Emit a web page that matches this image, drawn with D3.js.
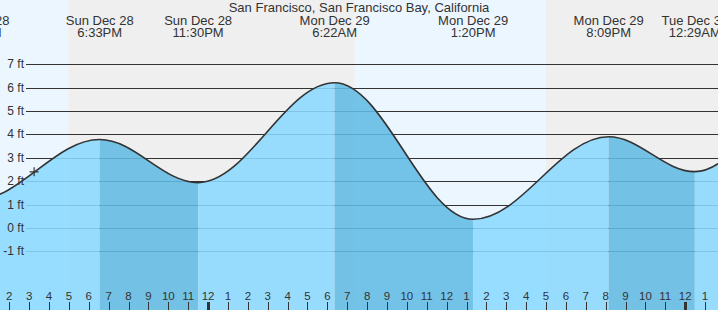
<!DOCTYPE html>
<html>
<head>
<meta charset="utf-8">
<script src="https://cdn.jsdelivr.net/npm/d3@7"></script>
<style>
  html, body { margin: 0; padding: 0; background: #fff; }
  svg { display: block; font-family: "Liberation Sans", Arial, sans-serif; }
</style>
</head>
<body>
<div id="chart"></div>
<script>
// Tide extremes (local time, kept as UTC so the sandbox timezone does not matter)
var tideTimes = ['2025-12-28T12:18', '2025-12-28T18:33', '2025-12-28T23:30', '2025-12-29T06:22',
                 '2025-12-29T13:20', '2025-12-29T20:09', '2025-12-30T00:29', '2025-12-30T06:30'];
var tideHeights = [1.2, 3.78, 1.94, 6.21, 0.37, 3.9, 2.41, 6.1];

// Sunset / sunrise boundaries
var sunTimes = ['2025-12-28T16:58', '2025-12-29T07:23', '2025-12-29T17:00'];

// "Now" marker
var nowTime = '2025-12-28T15:15';
var nowHeight = 2.4;

var yTicks = [-1, 0, 1, 2, 3, 4, 5, 6, 7];
var title = 'San Francisco, San Francisco Bay, California';
var domainStart = '2025-12-28T13:32';
var domainEnd = '2025-12-30T01:39';

function parseT(s) { return new Date(s + ':00Z'); }

var width = 718, height = 310;

var x = d3.scaleUtc()
    .domain([parseT(domainStart), parseT(domainEnd)])
    .range([0, width]);

var y = d3.scaleLinear()
    .domain([-1, 7])
    .range([251.3, 64.3]);

var tides = tideTimes.map(function(t, i) {
    return { time: parseT(t), height: tideHeights[i] };
});

/**
 * Tide curve: smooth segments with flat tangents at each high / low
 */
function TideCurve(context) { this._context = context; }
TideCurve.prototype = {
    areaStart: function() { this._line = 0; },
    areaEnd: function() { this._line = NaN; },
    lineStart: function() { this._point = 0; },
    lineEnd: function() {
        if (this._line || (this._line !== 0 && this._point === 1)) this._context.closePath();
        this._line = 1 - this._line;
    },
    point: function(px, py) {
        px = +px; py = +py;
        if (this._point === 0) {
            this._point = 1;
            if (this._line) this._context.lineTo(px, py);
            else this._context.moveTo(px, py);
        } else {
            this._point = 2;
            var c = (px - this._x) * 0.36;
            this._context.bezierCurveTo(this._x + c, this._y, px - c, py, px, py);
        }
        this._x = px; this._y = py;
    }
};
function curveTide(context) { return new TideCurve(context); }

var svg = d3.select('#chart').append('svg')
    .attr('width', width)
    .attr('height', height);

// Day / night background bands
var sunDates = sunTimes.map(parseT);
var bandEdges = [x.domain()[0]].concat(sunDates).concat([x.domain()[1]]);
var bands = [];
for (var i = 0; i < bandEdges.length - 1; i++) {
    bands.push({ start: bandEdges[i], end: bandEdges[i + 1], day: i % 2 === 0 });
}
svg.selectAll('.band')
    .data(bands)
    .enter()
    .append('rect')
    .attr('class', 'band')
    .attr('x', function(d) { return x(d.start); })
    .attr('width', function(d) { return x(d.end) - x(d.start); })
    .attr('y', 0)
    .attr('height', height)
    .attr('fill', function(d) { return d.day ? '#ecf6ff' : '#efefef'; });

// Grid lines (under the water, they show through faintly)
svg.selectAll('.grid')
    .data(yTicks)
    .enter()
    .append('line')
    .attr('class', 'grid')
    .attr('x1', 26)
    .attr('x2', width)
    .attr('y1', function(d) { return Math.round(y(d)) + 0.5; })
    .attr('y2', function(d) { return Math.round(y(d)) + 0.5; })
    .attr('stroke', '#333')
    .attr('stroke-width', 1);

// Water area, split into flood (light) and ebb (dark) stretches
var area = d3.area()
    .x(function(d) { return x(d.time); })
    .y0(height)
    .y1(function(d) { return y(d.height); })
    .curve(curveTide);

svg.append('clipPath')
    .attr('id', 'water-clip')
    .append('path')
    .attr('d', area(tides));

var stretches = [];
for (var j = 0; j < tides.length - 1; j++) {
    stretches.push({ start: tides[j].time, end: tides[j + 1].time,
                     ebb: tides[j].height > tides[j + 1].height });
}
svg.append('g')
    .attr('clip-path', 'url(#water-clip)')
    .selectAll('rect')
    .data(stretches)
    .enter()
    .append('rect')
    .attr('x', function(d) { return x(d.start); })
    .attr('width', function(d) { return x(d.end) - x(d.start); })
    .attr('y', 0)
    .attr('height', height)
    .attr('fill', function(d) { return d.ebb ? '#62bbe4' : '#8bdaff'; })
    .attr('fill-opacity', 0.88);

// Tide line
var line = d3.line()
    .x(function(d) { return x(d.time); })
    .y(function(d) { return y(d.height); })
    .curve(curveTide);

svg.append('path')
    .attr('d', line(tides))
    .attr('fill', 'none')
    .attr('stroke', '#333')
    .attr('stroke-width', 1.6);

// Y axis labels
svg.selectAll('.ylabel')
    .data(yTicks)
    .enter()
    .append('text')
    .attr('class', 'ylabel')
    .attr('x', 24)
    .attr('y', function(d) { return y(d) + 4; })
    .attr('text-anchor', 'end')
    .attr('font-size', 12)
    .attr('fill', '#333')
    .text(function(d) { return d + ' ft'; });

// Hour ticks along the bottom
var hours = d3.utcHour.range(d3.utcHour.ceil(x.domain()[0]), x.domain()[1]);
var hourFmt = d3.utcFormat('%-I');

svg.selectAll('.tick')
    .data(hours)
    .enter()
    .append('line')
    .attr('class', 'tick')
    .attr('x1', function(d) { return Math.round(x(d)) + 0.5; })
    .attr('x2', function(d) { return Math.round(x(d)) + 0.5; })
    .attr('y1', 302)
    .attr('y2', height)
    .attr('stroke', '#333')
    .attr('stroke-width', function(d) { return d.getUTCHours() === 0 ? 3 : 1; });

svg.selectAll('.hlabel')
    .data(hours)
    .enter()
    .append('text')
    .attr('class', 'hlabel')
    .attr('x', function(d) { return x(d); })
    .attr('y', 299.5)
    .attr('text-anchor', 'middle')
    .attr('font-size', 11.5)
    .attr('fill', '#333')
    .text(function(d) { return hourFmt(d); });

// Now marker
var nx = x(parseT(nowTime)), ny = y(nowHeight);
svg.append('path')
    .attr('d', 'M' + (nx - 4.5) + ',' + ny + 'H' + (nx + 4.5) + 'M' + nx + ',' + (ny - 4.5) + 'V' + (ny + 4.5))
    .attr('stroke', '#333')
    .attr('stroke-width', 1.2);

// High / low labels across the top
var dayFmt = d3.utcFormat('%a %b %-d');
var timeFmt = d3.utcFormat('%-I:%M%p');
var labels = svg.selectAll('.tlabel')
    .data(tides)
    .enter()
    .append('text')
    .attr('class', 'tlabel')
    .attr('text-anchor', 'middle')
    .attr('font-size', 13)
    .attr('fill', '#333');
labels.append('tspan')
    .attr('x', function(d) { return x(d.time); })
    .attr('y', 24.8)
    .text(function(d) { return dayFmt(d.time); });
labels.append('tspan')
    .attr('x', function(d) { return x(d.time); })
    .attr('y', 36.8)
    .text(function(d) { return timeFmt(d.time); });

// Title
svg.append('text')
    .attr('x', 359)
    .attr('y', 12.3)
    .attr('text-anchor', 'middle')
    .attr('font-size', 13)
    .attr('fill', '#333')
    .text(title);
</script>
</body>
</html>
